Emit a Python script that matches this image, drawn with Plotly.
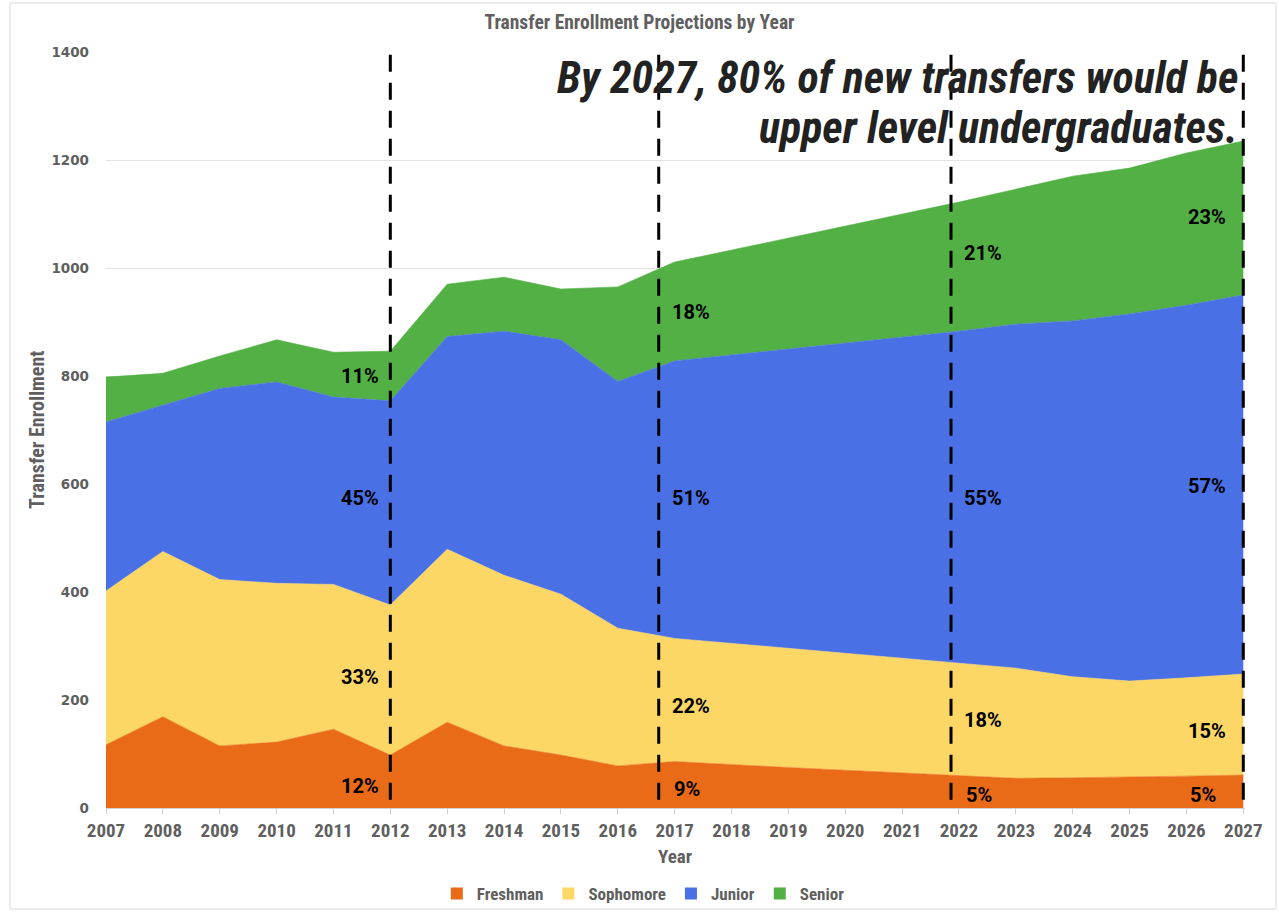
import plotly.graph_objects as go

years = list(range(2007, 2028))
freshman = [117, 169, 115, 122, 146, 98, 159, 115, 98, 78, 86, 80, 75, 70, 65, 61, 55, 56, 57, 59, 61]
sophomore = [285, 306, 308, 294, 268, 278, 320, 316, 298, 255, 228, 225, 221, 217, 213, 207, 204, 187, 178, 182, 187]
junior = [313, 271, 354, 373, 347, 378, 394, 452, 471, 457, 514, 534, 554, 574, 594, 615, 637, 659, 680, 690, 702]
senior = [83, 59, 60, 78, 83, 92, 97, 100, 94, 175, 183, 194, 206, 217, 228, 239, 250, 268, 270, 282, 285]

series_names = ["Freshman", "Sophomore", "Junior", "Senior"]
series_colors = ["#EA6B17", "#FDD766", "#4A70E6", "#52B044"]

divider_years = [2012, 2016.72, 2021.86, 2027]

# percentage labels: (x, y, text)
pct_x = [2011.46, 2011.46, 2011.46, 2011.46,
         2017.29, 2017.29, 2017.29, 2017.22,
         2022.43, 2022.43, 2022.43, 2022.35,
         2026.37, 2026.37, 2026.37, 2026.30]
pct_y = [800, 574, 243, 41,
         918, 574, 189, 35,
         1028, 574, 163, 24,
         1094, 596, 143, 24]
pct_text = ["11%", "45%", "33%", "12%",
            "18%", "51%", "22%", "9%",
            "21%", "55%", "18%", "5%",
            "23%", "57%", "15%", "5%"]

NARROW = "Liberation Sans Narrow, Roboto Condensed, DejaVu Sans Condensed, Arial Narrow, sans-serif"
GRAY = "#5f5f5f"

fig = go.Figure()
for name, vals, col in zip(series_names, [freshman, sophomore, junior, senior], series_colors):
    fig.add_trace(go.Scatter(
        x=years, y=vals, name=name, mode="lines", stackgroup="one",
        line=dict(width=0.6, color=col), fillcolor=col,
        legendgroup=name, showlegend=False,
        hoverinfo="x+y+name",
    ))
# legend entries with square swatches
for name, col in zip(series_names, series_colors):
    fig.add_trace(go.Scatter(
        x=[None], y=[None], name=name, mode="markers",
        marker=dict(symbol="square", size=12, color=col),
        legendgroup=name, showlegend=True, hoverinfo="skip",
    ))

shapes = []
for xv in divider_years:
    shapes.append(dict(type="line", xref="x", yref="y", x0=xv, x1=xv, y0=1395, y1=0,
                       line=dict(color="black", width=3, dash="17px,11px"), layer="above"))
# chart border
shapes.append(dict(type="rect", xref="paper", yref="paper",
                   x0=-0.0843, x1=1.0272, y0=-0.1336, y1=1.0648,
                   line=dict(color="#d9d9d9", width=1), layer="below"))

annotations = []
for xv, yv, t in zip(pct_x, pct_y, pct_text):
    annotations.append(dict(x=xv, y=yv, xref="x", yref="y", text=t, showarrow=False,
                            font=dict(family="Roboto, Liberation Sans, sans-serif", size=20,
                                      color="black", weight="bold")))

big_font = dict(family=NARROW, size=44, color="#222222", weight="bold", style="italic")
annotations.append(dict(x=0.9956, y=0.9656, xref="paper", yref="paper", xanchor="right", yanchor="middle",
                        text="By 2027, 80% of new transfers would be", showarrow=False, font=big_font))
annotations.append(dict(x=0.9956, y=0.8995, xref="paper", yref="paper", xanchor="right", yanchor="middle",
                        text="upper level undergraduates.", showarrow=False, font=big_font))
annotations.append(dict(x=-0.0606, y=0.5, xref="paper", yref="paper", xanchor="center", yanchor="middle",
                        text="Transfer Enrollment", textangle=-90, showarrow=False,
                        font=dict(family=NARROW, size=20, color=GRAY, weight="bold")))
annotations.append(dict(x=0.4995, y=-0.0635, xref="paper", yref="paper", xanchor="center", yanchor="middle",
                        text="Year", showarrow=False,
                        font=dict(family=NARROW, size=19, color=GRAY, weight="bold")))

fig.update_layout(
    width=1279, height=912,
    margin=dict(l=106, r=34, t=52, b=104, autoexpand=False),
    paper_bgcolor="white", plot_bgcolor="white",
    title=dict(text="Transfer Enrollment Projections by Year", x=0.5, xanchor="center",
               y=1 - 22 / 912, yanchor="middle",
               font=dict(family=NARROW, size=19.5, color=GRAY, weight="bold")),
    xaxis=dict(range=[2007, 2027.03], tickmode="array", tickvals=years,
               ticktext=[str(y) for y in years], showgrid=False,
               showline=True, linecolor="#d0d0d0", linewidth=1,
               ticks="outside", ticklen=5, tickcolor="#d0d0d0",
               tickfont=dict(family=NARROW, size=19, color=GRAY, weight="bold"),
               zeroline=False),
    yaxis=dict(range=[0, 1400], tickvals=[0, 200, 400, 600, 800, 1000, 1200, 1400],
               showgrid=True, gridcolor="#e3e3e3", gridwidth=1, zeroline=False,
               showline=False, ticks="", ticklabelstandoff=16,
               tickfont=dict(family="DejaVu Sans", size=13.5, color=GRAY, weight="bold")),
    legend=dict(orientation="h", x=0.503, xanchor="center", xref="container",
                y=(912 - 894) / 912, yanchor="middle", yref="container",
                bgcolor="rgba(0,0,0,0)",
                traceorder="normal", font=dict(family=NARROW, size=17, color=GRAY, weight="bold"),
                itemwidth=30),
    shapes=shapes,
    annotations=annotations,
    showlegend=True,
)

fig.write_html("out.html", config={"displayModeBar": False},
               post_script="document.body.style.margin='0';")
